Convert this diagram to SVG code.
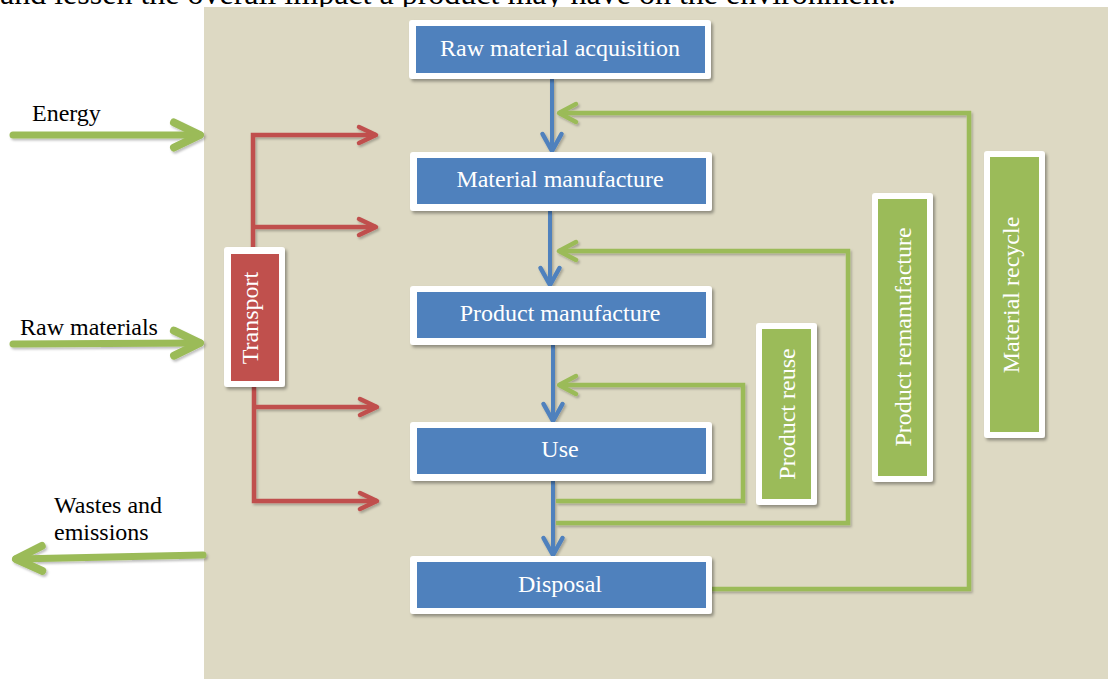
<svg xmlns="http://www.w3.org/2000/svg" width="1108" height="679" viewBox="0 0 1108 679">
<defs>
<style>
.lbl{font-family:"Liberation Serif","Times New Roman",serif;font-size:24px;fill:#000}
.bt{font-family:"Liberation Serif","Times New Roman",serif;font-size:24px;fill:#fff;text-anchor:middle}
.frame{fill:#fff}
.blue{fill:#4F81BD}
.red{fill:#C0504D}
.green{fill:#9BBB59}
.lb{fill:none;stroke:#4F81BD;stroke-width:4}
.lr{fill:none;stroke:#C0504D;stroke-width:4.5}
.lg{fill:none;stroke:#9BBB59;stroke-width:4.5}
.lgb{fill:none;stroke:#9BBB59;stroke-width:7;stroke-linecap:round}
</style>
<filter id="sh" x="-10%" y="-10%" width="130%" height="130%">
<feDropShadow dx="2" dy="2.5" stdDeviation="1.6" flood-color="#000" flood-opacity="0.35"/>
</filter>
<filter id="shl" x="-10%" y="-10%" width="130%" height="130%">
<feDropShadow dx="1.5" dy="2" stdDeviation="1.2" flood-color="#000" flood-opacity="0.25"/>
</filter>
<marker id="mb" markerUnits="userSpaceOnUse" markerWidth="30" markerHeight="30" viewBox="-25 -15 30 30" refX="0" refY="0" orient="auto" overflow="visible">
<path d="M-17,-9.5 L0,0 L-17,9.5" fill="none" stroke="#4F81BD" stroke-width="4.5" stroke-linecap="round" stroke-linejoin="round"/>
</marker>
<marker id="mr" markerUnits="userSpaceOnUse" markerWidth="30" markerHeight="30" viewBox="-25 -15 30 30" refX="0" refY="0" orient="auto" overflow="visible">
<path d="M-17,-8 L0,0 L-17,8" fill="none" stroke="#C0504D" stroke-width="4.5" stroke-linecap="round" stroke-linejoin="round"/>
</marker>
<marker id="mg" markerUnits="userSpaceOnUse" markerWidth="30" markerHeight="30" viewBox="-25 -15 30 30" refX="0" refY="0" orient="auto" overflow="visible">
<path d="M-17,-9 L0,0 L-17,9" fill="none" stroke="#9BBB59" stroke-width="4.5" stroke-linecap="round" stroke-linejoin="round"/>
</marker>
<marker id="mgb" markerUnits="userSpaceOnUse" markerWidth="40" markerHeight="40" viewBox="-35 -20 40 40" refX="0" refY="0" orient="auto" overflow="visible">
<path d="M-26,-12.5 L0,0 L-26,12.5" fill="none" stroke="#9BBB59" stroke-width="8" stroke-linecap="round" stroke-linejoin="round"/>
</marker>
</defs>

<rect x="0" y="0" width="1108" height="679" fill="#fff"/>
<text class="lbl" x="0" y="4" style="font-size:32px">and lessen the overall impact a product may have on the environment.</text>
<rect x="204" y="7" width="904" height="672" fill="#DDD9C3"/>

<g id="inputs-outputs">
<text class="lbl" x="32" y="121">Energy</text>
<text class="lbl" x="20" y="335">Raw materials</text>
<text class="lbl" x="54" y="513">Wastes and</text>
<text class="lbl" x="54" y="540">emissions</text>
<g filter="url(#shl)">
<path class="lgb" d="M13,135 H200" marker-end="url(#mgb)"/>
<path class="lgb" d="M13,344 L200,343" marker-end="url(#mgb)"/>
<path class="lgb" d="M203,555 L16,559" marker-end="url(#mgb)"/>
</g>
</g>

<g id="connectors" filter="url(#shl)">
<path class="lb" d="M552,79 V151" marker-end="url(#mb)"/>
<path class="lb" d="M550,211 V285" marker-end="url(#mb)"/>
<path class="lb" d="M553,345 V421" marker-end="url(#mb)"/>
<path class="lb" d="M553,481 V555" marker-end="url(#mb)"/>
<path class="lr" d="M253,247 V135 H376" marker-end="url(#mr)"/>
<path class="lr" d="M253,227 H376" marker-end="url(#mr)"/>
<path class="lr" d="M254,387 V501 H377" marker-end="url(#mr)"/>
<path class="lr" d="M254,407 H377" marker-end="url(#mr)"/>
<path class="lg" d="M707,589 H969 V113 H559" marker-end="url(#mg)"/>
<path class="lg" d="M556,523 H848 V251 H559" marker-end="url(#mg)"/>
<path class="lg" d="M556,501 H743 V385 H559" marker-end="url(#mg)"/>
</g>

<g id="raw-material-acquisition">
<rect class="frame" x="409" y="20" width="302" height="59" rx="3" filter="url(#sh)"/>
<rect class="blue" x="416" y="26" width="289" height="47"/>
<text class="bt" x="560" y="56">Raw material acquisition</text>
</g>
<g id="material-manufacture">
<rect class="frame" x="410" y="152" width="302" height="59" rx="3" filter="url(#sh)"/>
<rect class="blue" x="417" y="158" width="289" height="46"/>
<text class="bt" x="560" y="187">Material manufacture</text>
</g>
<g id="product-manufacture">
<rect class="frame" x="410" y="286" width="302" height="59" rx="3" filter="url(#sh)"/>
<rect class="blue" x="417" y="292" width="289" height="46"/>
<text class="bt" x="560" y="321">Product manufacture</text>
</g>
<g id="use">
<rect class="frame" x="410" y="422" width="302" height="59" rx="3" filter="url(#sh)"/>
<rect class="blue" x="417" y="428" width="289" height="46"/>
<text class="bt" x="560" y="457">Use</text>
</g>
<g id="disposal">
<rect class="frame" x="410" y="556" width="302" height="58" rx="3" filter="url(#sh)"/>
<rect class="blue" x="417" y="562" width="289" height="46"/>
<text class="bt" x="560" y="592">Disposal</text>
</g>

<g id="transport">
<rect class="frame" x="224" y="247" width="61" height="140" rx="3" filter="url(#sh)"/>
<rect class="red" x="231" y="254" width="48" height="127"/>
<text class="bt" transform="translate(250,318) rotate(-90)" x="0" y="8">Transport</text>
</g>
<g id="product-reuse">
<rect class="frame" x="756" y="323" width="61" height="182" rx="3" filter="url(#sh)"/>
<rect class="green" x="762" y="329" width="49" height="170"/>
<text class="bt" transform="translate(786,414) rotate(-90)" x="0" y="9">Product reuse</text>
</g>
<g id="product-remanufacture">
<rect class="frame" x="872" y="193" width="61" height="289" rx="3" filter="url(#sh)"/>
<rect class="green" x="878" y="199" width="49" height="277"/>
<text class="bt" transform="translate(902,337) rotate(-90)" x="0" y="9">Product remanufacture</text>
</g>
<g id="material-recycle">
<rect class="frame" x="984" y="151" width="61" height="287" rx="3" filter="url(#sh)"/>
<rect class="green" x="990" y="157" width="49" height="275"/>
<text class="bt" transform="translate(1011,295) rotate(-90)" x="0" y="8">Material recycle</text>
</g>
</svg>
